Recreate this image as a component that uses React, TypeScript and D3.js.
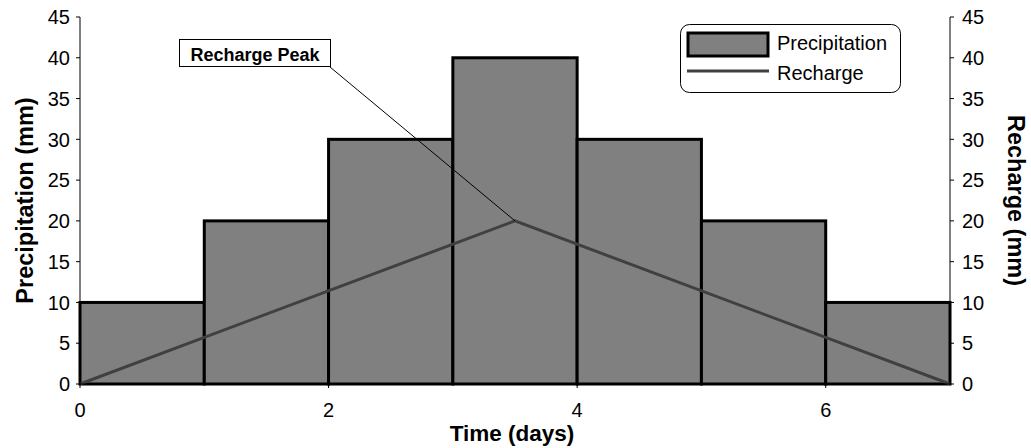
import React from "react";
import * as d3 from "d3";

const days = [0, 1, 2, 3, 4, 5, 6];
const precipitation = [10, 20, 30, 40, 30, 20, 10];
const rechargeTime = [0, 3.5, 7];
const rechargeValues = [0, 20, 0];
const yTicks = [0, 5, 10, 15, 20, 25, 30, 35, 40, 45];
const xTicks = [0, 2, 4, 6];

const W = 1031;
const H = 448;
const m = { left: 80, right: 950, top: 17, bottom: 384 };

export default function App() {
  const x = d3.scaleLinear().domain([0, 7]).range([m.left, m.right]);
  const y = d3.scaleLinear().domain([0, 45]).range([m.bottom, m.top]);
  const y2 = d3.scaleLinear().domain([0, 45]).range([m.bottom, m.top]);
  const line = d3
    .line<number>()
    .x((_, i) => x(rechargeTime[i]))
    .y((d) => y2(d));
  const font = "Liberation Sans, Arial, sans-serif";
  const peakX = x(rechargeTime[1]);
  const peakY = y2(rechargeValues[1]);
  return (
    <svg
      width={W}
      height={H}
      style={{ position: "absolute", left: 0, top: 0, background: "#fff" }}
      fontFamily={font}
    >
      {/* bars */}
      {days.map((d, i) => (
        <rect
          key={i}
          x={x(d)}
          y={y(precipitation[i])}
          width={x(d + 1) - x(d)}
          height={y(0) - y(precipitation[i])}
          fill="#808080"
          stroke="#000"
          strokeWidth={3}
        />
      ))}
      {/* recharge line */}
      <path d={line(rechargeValues) || ""} fill="none" stroke="#404040" strokeWidth={3} />
      {/* left axis */}
      <line x1={m.left} x2={m.left} y1={m.top} y2={m.bottom} stroke="#000" strokeWidth={1} />
      {yTicks.map((t) => (
        <g key={"l" + t}>
          <line x1={m.left - 4} x2={m.left} y1={y(t)} y2={y(t)} stroke="#000" />
          <text x={m.left - 10} y={y(t)} dy="0.36em" textAnchor="end" fontSize={20}>
            {t}
          </text>
        </g>
      ))}
      {/* right axis */}
      <line x1={m.right} x2={m.right} y1={m.top} y2={m.bottom} stroke="#000" strokeWidth={1} />
      {yTicks.map((t) => (
        <g key={"r" + t}>
          <line x1={m.right} x2={m.right + 4} y1={y2(t)} y2={y2(t)} stroke="#000" />
          <text x={m.right + 12} y={y2(t)} dy="0.36em" textAnchor="start" fontSize={20}>
            {t}
          </text>
        </g>
      ))}
      {/* x axis */}
      <line x1={m.left} x2={m.right} y1={m.bottom} y2={m.bottom} stroke="#000" />
      {xTicks.map((t) => (
        <g key={"x" + t}>
          <line x1={x(t)} x2={x(t)} y1={m.bottom} y2={m.bottom + 4} stroke="#000" />
          <text x={x(t)} y={m.bottom + 33} textAnchor="middle" fontSize={20}>
            {t}
          </text>
        </g>
      ))}
      {/* axis titles */}
      <text
        transform={`translate(33,${(m.top + m.bottom) / 2}) rotate(-90)`}
        textAnchor="middle"
        fontSize={23.5}
        fontWeight="bold"
      >
        Precipitation (mm)
      </text>
      <text
        transform={`translate(1008,${(m.top + m.bottom) / 2}) rotate(90)`}
        textAnchor="middle"
        fontSize={23.5}
        fontWeight="bold"
      >
        Recharge (mm)
      </text>
      <text x={512} y={441} textAnchor="middle" fontSize={22.5} fontWeight="bold">
        Time (days)
      </text>
      {/* annotation */}
      <line x1={330} y1={67} x2={peakX} y2={peakY} stroke="#000" strokeWidth={1} />
      <rect x={179.5} y={39.5} width={151} height={27} fill="#fff" stroke="#000" strokeWidth={1} />
      <text x={255} y={61} textAnchor="middle" fontSize={18} fontWeight="bold">
        Recharge Peak
      </text>
      {/* legend */}
      <rect x={680.5} y={24.5} width={220} height={68} rx={9} fill="#fff" stroke="#000" strokeWidth={1} />
      <rect x={688} y={33} width={80} height={23} fill="#808080" stroke="#000" strokeWidth={3} />
      <text x={777} y={50} fontSize={20}>
        Precipitation
      </text>
      <line x1={687} x2={769} y1={71} y2={71} stroke="#404040" strokeWidth={3} />
      <text x={777} y={80} fontSize={20}>
        Recharge
      </text>
    </svg>
  );
}
